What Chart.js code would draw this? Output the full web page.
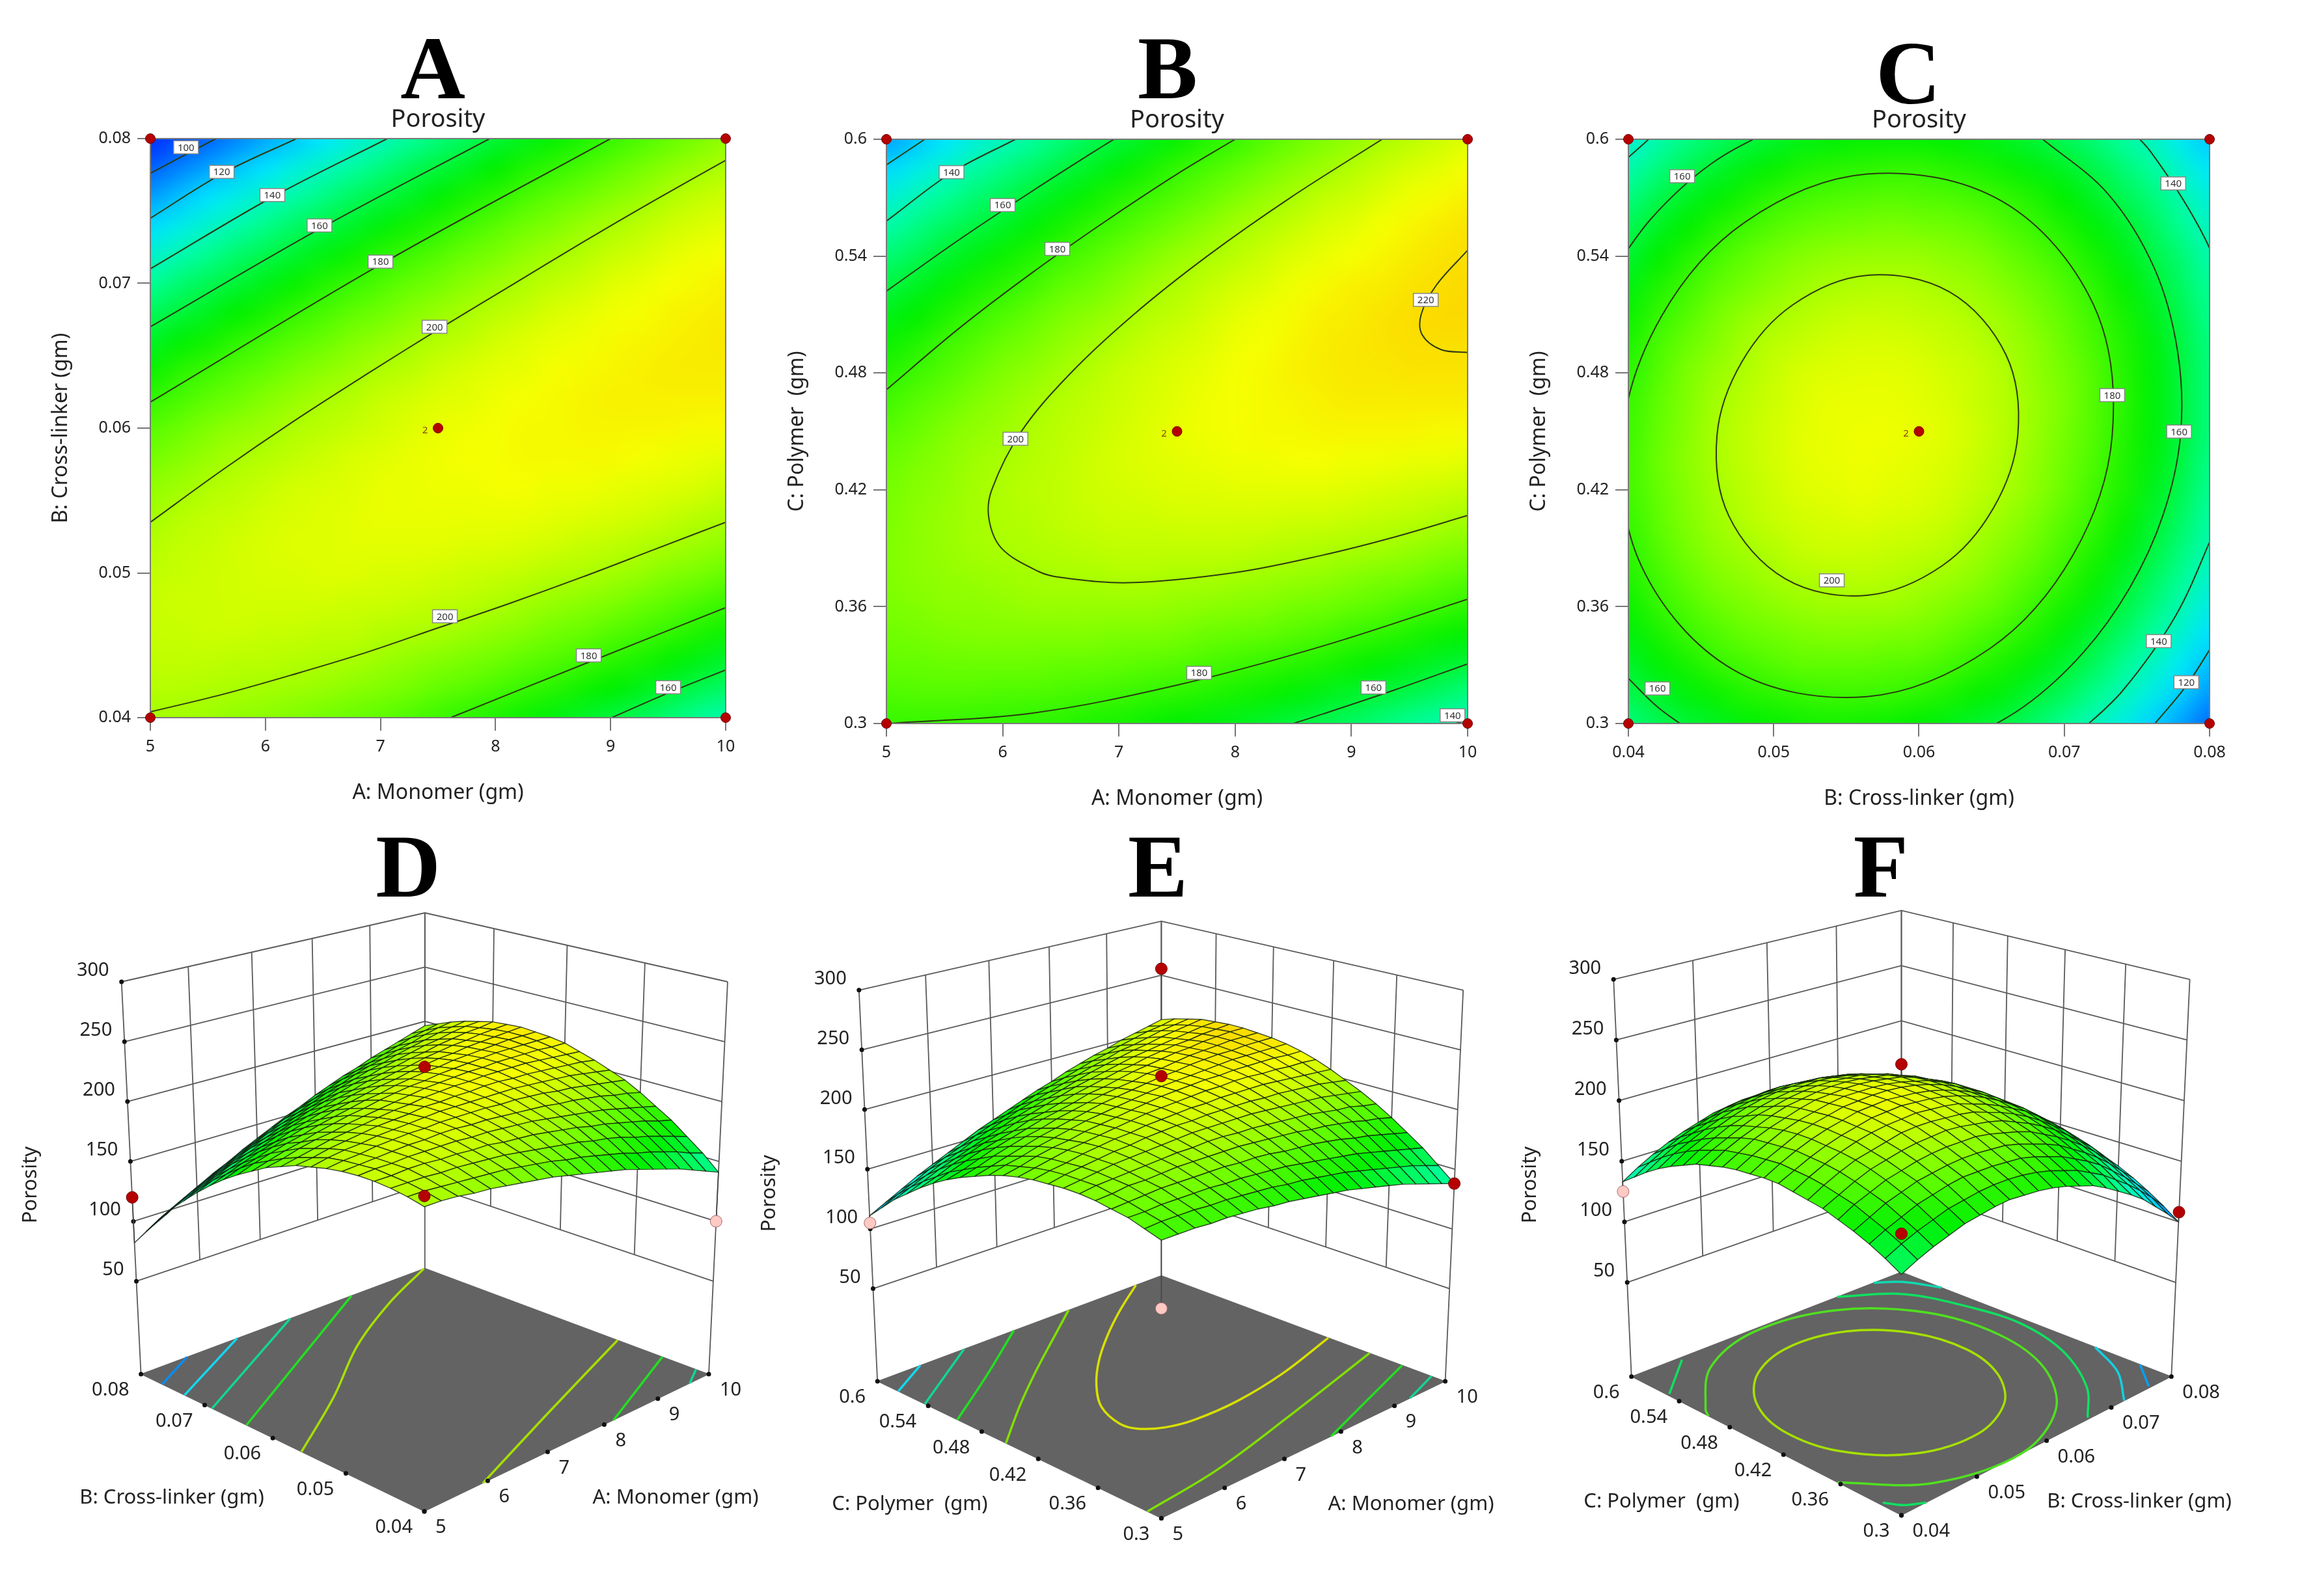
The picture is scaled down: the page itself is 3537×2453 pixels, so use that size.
<!DOCTYPE html>
<html>
<head>
<meta charset="utf-8">
<title>Porosity</title>
<script src="https://cdn.jsdelivr.net/npm/chart.js@4/dist/chart.umd.min.js"></script>
<style>
body { margin: 0; background: #fff; width: 3537px; height: 2453px; position: relative; overflow: hidden; }
canvas { position: absolute; }
.letter { position: absolute; font: bold 138px "Liberation Serif"; line-height: 1; transform: translateX(-50%); color: #000; }
</style>
</head>
<body>
<div class="letter" style="left:665px;top:36px">A</div>
<div class="letter" style="left:1794px;top:36px">B</div>
<div class="letter" style="left:2932px;top:44px">C</div>
<div class="letter" style="left:627px;top:1263px">D</div>
<div class="letter" style="left:1779px;top:1263px">E</div>
<div class="letter" style="left:2890px;top:1263px">F</div>
<canvas id="chartA" width="1240" height="1260" style="left:0;top:0"></canvas>
<canvas id="chartB" width="1240" height="1270" style="left:1150px;top:0"></canvas>
<canvas id="chartC" width="1240" height="1270" style="left:2290px;top:0"></canvas>
<canvas id="chartD" width="1200" height="1173" style="left:0;top:1280px"></canvas>
<canvas id="chartE" width="1200" height="1173" style="left:1140px;top:1280px"></canvas>
<canvas id="chartF" width="1217" height="1173" style="left:2320px;top:1280px"></canvas>
<script>
// tick labels
const monomerTicks = [5, 6, 7, 8, 9, 10];
const crossTicks = [0.04, 0.05, 0.06, 0.07, 0.08];
const polymerTicks = [0.3, 0.36, 0.42, 0.48, 0.54, 0.6];
const porosityTicks = [50, 100, 150, 200, 250, 300];

// porosity, 21 x 21 nodes. Rows go from the low to the high end of the vertical factor
const porosityAB = [
[199,199,198,196,195,193,191,189,187,184,181,178,175,172,168,164,160,156,151,146,141],
[202,202,201,200,199,198,197,195,193,191,188,186,183,180,177,173,170,166,162,157,153],
[204,204,204,203,203,202,201,200,198,196,194,192,190,187,185,182,178,175,171,167,163],
[205,205,206,206,205,205,204,204,202,201,200,198,196,194,191,189,186,183,180,176,173],
[205,206,206,207,207,207,207,206,206,205,204,203,201,199,197,195,193,190,187,184,181],
[204,205,206,207,208,208,209,209,208,208,207,206,205,204,202,201,199,197,194,192,189],
[202,204,205,207,208,209,209,210,210,210,210,209,209,208,207,205,204,202,200,198,196],
[199,202,204,205,207,208,209,210,211,211,211,211,211,211,210,209,208,207,205,203,201],
[196,198,201,203,205,207,208,209,211,211,212,212,213,213,212,212,211,210,209,208,206],
[191,194,197,200,202,204,206,208,209,211,212,213,213,214,214,214,214,213,212,211,210],
[186,189,193,196,198,201,203,205,207,209,211,212,213,214,214,215,215,215,215,214,214],
[179,183,187,190,194,197,200,202,205,207,209,210,212,213,214,215,216,216,216,216,216],
[172,177,181,185,188,192,195,198,201,203,206,208,210,211,213,214,215,216,217,217,217],
[164,169,173,178,182,186,189,193,196,199,202,204,207,209,211,212,214,215,216,217,218],
[155,160,165,170,174,179,183,187,190,194,197,200,203,205,208,210,212,213,215,216,217],
[145,151,156,161,166,171,176,180,184,188,191,195,198,201,204,206,209,211,213,214,216],
[134,140,146,152,157,162,167,172,177,181,185,189,192,196,199,202,205,207,210,212,213],
[123,129,135,141,147,153,158,163,168,173,177,182,186,190,193,197,200,203,206,208,210],
[110,117,124,130,136,142,148,154,159,164,169,174,178,183,187,190,194,197,201,204,206],
[96,104,111,118,124,131,137,143,149,155,160,165,170,175,179,183,187,191,195,198,201],
[82,90,97,105,112,119,125,132,138,144,150,155,161,166,171,175,180,184,188,192,196]
];
const porosityAC = [
[180,180,180,179,179,178,177,175,174,172,170,168,166,163,160,157,154,150,146,142,138],
[184,185,185,185,184,184,183,182,181,179,178,176,174,172,169,166,163,160,157,153,149],
[188,188,189,189,189,189,188,188,187,186,185,183,181,179,177,175,172,169,166,163,160],
[190,191,192,193,193,193,193,193,192,192,191,189,188,187,185,183,180,178,175,172,169],
[192,193,195,195,196,197,197,197,197,197,196,195,194,193,191,190,188,186,183,181,178],
[193,195,196,197,198,199,200,200,201,201,200,200,199,198,197,196,194,192,191,188,186],
[193,195,197,199,200,201,202,203,204,204,204,204,204,203,202,201,200,199,197,195,193],
[192,195,197,199,201,202,204,205,206,206,207,207,207,207,206,206,205,204,203,201,199],
[191,194,196,199,201,203,204,206,207,208,209,209,210,210,210,210,209,208,207,206,205],
[189,192,195,198,200,202,204,206,208,209,210,211,212,212,213,213,212,212,211,211,210],
[186,189,193,196,198,201,203,205,207,209,211,212,213,214,214,215,215,215,215,214,214],
[182,186,189,193,196,199,202,204,206,208,210,212,213,214,215,216,217,217,217,217,217],
[177,181,185,189,193,196,199,202,205,207,209,211,213,214,216,217,218,218,219,219,219],
[172,176,181,185,189,192,196,199,202,205,207,209,212,213,215,217,218,219,220,220,220],
[166,170,175,180,184,188,192,195,198,202,204,207,210,212,214,216,217,219,220,221,221],
[159,164,169,174,178,182,187,190,194,198,201,204,207,209,212,214,216,217,219,220,221],
[151,156,162,167,172,176,181,185,189,193,197,200,203,206,209,211,213,215,217,219,220],
[142,148,154,159,164,169,174,179,183,187,191,195,199,202,205,208,210,213,215,217,219],
[133,139,145,151,156,162,167,172,177,181,185,189,193,197,200,204,206,209,212,214,216],
[122,129,135,142,148,153,159,164,169,174,179,183,187,191,195,198,202,205,208,210,213],
[111,118,125,132,138,144,150,156,161,166,171,176,180,185,189,193,196,200,203,206,209]
];
const porosityBC = [
[150,156,161,165,169,171,173,174,173,172,170,167,163,159,153,146,139,131,121,111,100],
[157,163,168,172,176,178,180,181,181,180,178,175,171,167,161,155,147,139,130,120,109],
[163,169,174,179,182,185,187,187,187,186,185,182,178,174,168,162,155,146,137,127,117],
[168,174,180,184,188,190,192,193,193,192,191,188,184,180,175,168,161,153,144,134,124],
[172,179,184,189,192,195,197,198,198,198,196,193,190,186,180,174,167,159,150,140,130],
[176,182,188,193,196,199,201,202,203,202,200,198,195,190,185,179,172,164,155,146,135],
[178,185,191,196,199,202,205,206,206,205,204,202,198,194,189,183,176,168,160,150,140],
[180,187,193,198,202,205,207,208,209,208,207,205,201,197,192,186,180,172,163,154,143],
[182,188,194,199,203,206,209,210,211,210,209,207,204,200,195,189,182,175,166,157,146],
[182,189,195,200,204,207,210,211,212,211,210,208,205,201,196,190,184,176,168,159,148],
[181,188,194,200,204,207,210,211,212,212,211,209,206,202,197,191,185,177,169,160,150],
[180,187,193,199,203,206,209,211,211,211,210,208,205,202,197,192,185,178,169,160,150],
[178,185,192,197,201,205,208,209,210,210,209,207,205,201,196,191,185,177,169,160,150],
[175,183,189,194,199,203,205,207,208,208,207,205,203,199,195,189,183,176,168,159,149],
[172,179,185,191,196,199,202,204,205,205,204,203,200,197,192,187,181,174,166,157,147],
[167,175,181,187,191,195,198,200,201,202,201,199,197,193,189,184,178,171,163,154,145],
[162,170,176,182,187,191,194,196,197,197,197,195,193,189,185,180,174,167,159,151,141],
[156,164,170,176,181,185,188,190,191,192,191,190,188,184,180,175,169,163,155,146,137],
[149,157,164,169,174,179,182,184,185,186,185,184,182,179,175,170,164,157,150,141,132],
[141,149,156,162,167,171,175,177,178,179,179,177,175,172,168,164,158,151,144,135,126],
[133,141,148,154,159,163,167,169,171,171,171,170,168,165,161,156,151,144,137,128,119]
];

// contour lines of the flat maps: [x, y] in axis units. A line whose ends coincide is a closed ring
const contoursA = [
[[5,0.0776],[5.57,0.08]],
[[5,0.0745],[5.63,0.0776],[6.27,0.08]],
[[5,0.071],[6.07,0.076],[7.06,0.08]],
[[5,0.067],[6.48,0.0738],[7.95,0.08]],
[[5,0.0618],[7,0.0713],[9,0.08]],
[[5,0.0535],[5.625,0.0571],[6.25,0.0605],[6.875,0.0637],[7.5,0.0668],[8.125,0.0698],[8.75,0.0728],[9.375,0.0757],[10,0.0785]],
[[5,0.0404],[5.625,0.0416],[6.25,0.043],[6.875,0.0445],[7.5,0.0462],[8.125,0.0479],[8.75,0.0497],[9.375,0.0516],[10,0.0535]],
[[7.61,0.04],[8.8,0.0438],[10,0.0476]],
[[9.01,0.04],[9.5,0.0417],[10,0.0433]]
];
const labelsA = [[5.31,0.0794,'100'],[5.62,0.0777,'120'],[6.06,0.0761,'140'],[6.47,0.074,'160'],[7,0.0715,'180'],[7.47,0.067,'200'],[7.56,0.047,'200'],[8.81,0.0443,'180'],[9.5,0.0421,'160']];
const contoursB = [
[[5,0.5868],[5.33,0.6]],
[[5,0.558],[5.56,0.5828],[6.11,0.6]],
[[5,0.522],[5.625,0.5484],[6.25,0.5732],[6.875,0.597],[7,0.6015]],
[[5,0.4714],[5.625,0.5029],[6.25,0.5313],[6.875,0.5575],[7.5,0.5821],[8,0.6]],
[[9.265,0.6],[8.475,0.57],[7.76,0.54],[7.127,0.51],[6.586,0.48],[6.161,0.45],[5.906,0.42],[5.882,0.405],[5.99,0.39],[6.31,0.378],[6.5,0.375],[7.09,0.3723],[8,0.3775],[8.75,0.3864],[9.375,0.3958],[10,0.4068]],
[[10,0.543],[9.73,0.525],[9.6,0.51],[9.61,0.4995],[9.77,0.492],[10,0.4905]],
[[5,0.3],[6.25,0.3053],[7.5,0.3197],[8.75,0.3397],[10,0.3638]],
[[8.5,0.3],[8.75,0.3048],[9.375,0.3173],[10,0.3306]],
[[9.9,0.3],[10,0.302]]
];
const labelsB = [[5.56,0.5831,'140'],[6,0.5662,'160'],[6.47,0.5437,'180'],[6.11,0.4462,'200'],[9.64,0.5175,'220'],[7.69,0.326,'180'],[9.19,0.3185,'160'],[9.87,0.3042,'140']];
const contoursC = [
[[0.04,0.5907],[0.0414,0.6]],
[[0.0384,0.5263],[0.0416,0.5595],[0.0457,0.5874],[0.0507,0.6081]],
[[0.0733,0.448],[0.072,0.5152],[0.0657,0.5682],[0.0564,0.5821],[0.048,0.5573],[0.0423,0.5094],[0.0396,0.448],[0.0409,0.3808],[0.0472,0.3277],[0.0564,0.3138],[0.0649,0.3386],[0.0706,0.3865],[0.0733,0.448]],
[[0.0668,0.448],[0.066,0.4891],[0.0621,0.5216],[0.0564,0.5301],[0.0513,0.5149],[0.0478,0.4856],[0.0461,0.448],[0.0469,0.4068],[0.0508,0.3743],[0.0564,0.3658],[0.0616,0.381],[0.0651,0.4103],[0.0668,0.448]],
[[0.0683,0.6013],[0.073,0.572],[0.0762,0.5337],[0.0778,0.491],[0.078,0.448],[0.0768,0.4071],[0.0745,0.3696],[0.0713,0.3364],[0.0672,0.3086],[0.0622,0.2879]],
[[0.0399,0.3239],[0.0421,0.3079],[0.0446,0.2947]],
[[0.0735,0.6117],[0.0759,0.594],[0.0797,0.5488],[0.0812,0.5156]],
[[0.0804,0.4],[0.0777,0.3558],[0.074,0.3167],[0.0708,0.294]],
[[0.0805,0.3438],[0.0784,0.3194],[0.0762,0.2996]]
];
const labelsC = [[0.0437,0.581,'160'],[0.0775,0.5773,'140'],[0.0733,0.4686,'180'],[0.0779,0.4499,'160'],[0.054,0.3735,'200'],[0.0765,0.3423,'140'],[0.0784,0.3212,'120'],[0.042,0.318,'160']];

// contour lines on the floor of the 3D plots: colour, then [x, y] in axis units
const floorD = [
['#0a8cf0',[[5,0.0766],[5.73,0.08]]],
['#14d8f0',[[5,0.0731],[6.56,0.08]]],
['#10d890',[[5,0.0689],[7.48,0.08]]],
['#22e020',[[5,0.0638],[8.59,0.08]]],
['#a6e000',[[5,0.056],[6.25,0.0625],[7.5,0.0698],[8.75,0.0755],[9.98,0.08]]],
['#a6e000',[[5.92,0.04],[7.76,0.0454],[10,0.0518]]],
['#22e020',[[8.17,0.04],[10,0.0459]]],
['#10d890',[[9.62,0.04],[10,0.0416]]]
];
const floorE = [
['#14d8f0',[[5,0.575],[5.68,0.6]]],
['#10d890',[[5,0.544],[6.4,0.6]]],
['#22e020',[[5,0.507],[6.07,0.55],[7.25,0.6]]],
['#80e000',[[5,0.454],[5.8,0.4935],[6.6,0.53],[7.4,0.5645],[8.23,0.6]]],
['#d8e000',[[9.5,0.6],[8.71,0.57],[8,0.54],[7.375,0.51],[6.86,0.48],[6.47,0.45],[6.3,0.42],[6.36,0.405],[6.61,0.393],[7,0.3868],[7.75,0.3864],[8.75,0.3954],[10,0.4148]]],
['#80e000',[[5,0.313],[6.25,0.3215],[7.9,0.343],[10,0.373]]],
['#22e020',[[7.82,0.3],[10,0.341]]],
['#10d890',[[9.3,0.3],[10,0.313]]]
];
const floorF = [
['#a6e000',[[0.0697,0.448],[0.0686,0.5007],[0.0637,0.5422],[0.0564,0.5531],[0.0498,0.5337],[0.0453,0.4962],[0.0432,0.448],[0.0443,0.3953],[0.0492,0.3537],[0.0564,0.3428],[0.0631,0.3623],[0.0676,0.3998],[0.0697,0.448]]],
['#50e020',[[0.04,0.5048],[0.0408,0.5157],[0.0472,0.5685],[0.0564,0.5959],[0.0667,0.5805],[0.0736,0.5221],[0.075,0.448],[0.0721,0.3802],[0.0657,0.3275],[0.0564,0.3001],[0.0462,0.3154],[0.04,0.3633]]],
['#10e060',[[0.0695,0.6],[0.0755,0.5635],[0.0783,0.5],[0.0789,0.448],[0.0767,0.39],[0.0718,0.335],[0.0666,0.302]]],
['#10e060',[[0.0404,0.321],[0.0414,0.3086],[0.0432,0.3]]],
['#10e060',[[0.0403,0.555],[0.0463,0.596]]],
['#10d8b0',[[0.0754,0.6],[0.078,0.583],[0.08,0.55]]],
['#14d0e0',[[0.08,0.377],[0.0769,0.335],[0.0721,0.3]]],
['#0aa0f0',[[0.08,0.331],[0.0765,0.302]]]
];

// design points: [x, y, porosity]; the 2D maps only use x and y
const pointsFlatA = [[5,0.04],[10,0.04],[5,0.08],[10,0.08],[7.5,0.06]];
const pointsFlatB = [[5,0.3],[10,0.3],[5,0.6],[10,0.6],[7.5,0.45]];
const pointsFlatC = [[0.04,0.3],[0.08,0.3],[0.04,0.6],[0.08,0.6],[0.06,0.45]];
const pointsRedD = [[5,0.08,120],[7.5,0.06,229],[5,0.04,207]];
const pointsPaleD = [[10,0.04,100]];
const pointsRedE = [[10,0.3,138],[10,0.6,256],[7.5,0.45,228]];
const pointsPaleE = [[5,0.6,105],[5,0.3,129]];
const pointsRedF = [[0.08,0.3,108],[0.06,0.45,230],[0.04,0.3,180]];
const pointsPaleF = [[0.04,0.6,125]];

const colorStops = [[80,[0,40,255]],[100,[0,110,255]],[125,[0,230,255]],[145,[0,255,150]],[170,[0,240,0]],[190,[110,255,0]],[213,[245,255,0]],[225,[255,200,0]]];
const textFont = '"Noto Sans"';
const lineTension = 0.35;

function colorFor(v) {
    if (v <= colorStops[0][0]) return colorStops[0][1];
    for (let i = 1; i < colorStops.length; i++) {
        if (v <= colorStops[i][0]) {
            const [v0, c0] = colorStops[i - 1], [v1, c1] = colorStops[i];
            const f = (v - v0) / (v1 - v0);
            return c0.map((c, k) => Math.round(c + (c1[k] - c) * f));
        }
    }
    return colorStops[colorStops.length - 1][1];
}

function niceTicks(values) {
    return function (scale) { scale.ticks = values.map(v => ({ value: v })); };
}

// closed rings overlap by one point on each side, hidden, so the spline has no corner where it closes
function isRing(line) {
    const a = line[0], b = line[line.length - 1];
    return line.length > 3 && a[0] === b[0] && a[1] === b[1];
}
function wrapRing(line) {
    return isRing(line) ? [line[line.length - 2]].concat(line, [line[1]]) : line;
}
function ringOptions(line) {
    if (!isRing(line)) return {};
    const last = line.length + 1;
    return { segment: { borderColor: c => (c.p0DataIndex === 0 || c.p1DataIndex === last) ? 'transparent' : undefined } };
}

function drawFlatMap(id, cfg) {
    const xs = cfg.xTicks, ys = cfg.yTicks;
    const dots = cfg.points.map(p => ({ x: p[0], y: p[1] }));

    const mapPlugin = {
        id: 'mapPlugin',
        beforeDatasetsDraw(chart) {
            // colour field from the table
            const grid = cfg.grid, n = grid.length, m = grid[0].length;
            const off = document.createElement('canvas');
            off.width = m; off.height = n;
            const oc = off.getContext('2d'), img = oc.createImageData(m, n);
            for (let r = 0; r < n; r++) {
                for (let c = 0; c < m; c++) {
                    const rgb = colorFor(grid[n - 1 - r][c]), i = (r * m + c) * 4;
                    img.data[i] = rgb[0]; img.data[i + 1] = rgb[1]; img.data[i + 2] = rgb[2]; img.data[i + 3] = 255;
                }
            }
            oc.putImageData(img, 0, 0);
            const ctx = chart.ctx, sx = chart.scales.x, sy = chart.scales.y;
            const left = sx.getPixelForValue(xs[0]), right = sx.getPixelForValue(xs[xs.length - 1]);
            const top = sy.getPixelForValue(ys[ys.length - 1]), bottom = sy.getPixelForValue(ys[0]);
            ctx.save();
            ctx.imageSmoothingEnabled = true;
            ctx.imageSmoothingQuality = 'high';
            ctx.drawImage(off, 0.5, 0.5, m - 1, n - 1, left, top, right - left, bottom - top);
            ctx.restore();
        },
        beforeDatasetDraw(chart, args) {
            if (!chart.data.datasets[args.index].isDots) return;
            const ctx = chart.ctx, a = chart.chartArea, sx = chart.scales.x, sy = chart.scales.y;
            ctx.save();
            ctx.strokeStyle = '#7a7a7a';
            ctx.lineWidth = 2;
            ctx.strokeRect(a.left, a.top, a.width, a.height);
            // little white contour labels
            ctx.font = '15px ' + textFont;
            ctx.textAlign = 'center';
            ctx.textBaseline = 'middle';
            cfg.labels.forEach(l => {
                const px = sx.getPixelForValue(l[0]), py = sy.getPixelForValue(l[1]);
                ctx.fillStyle = '#fff';
                ctx.fillRect(px - 19, py - 10, 38, 20);
                ctx.strokeStyle = '#888';
                ctx.lineWidth = 1.5;
                ctx.strokeRect(px - 19, py - 10, 38, 20);
                ctx.fillStyle = '#333';
                ctx.fillText(l[2], px, py + 1);
            });
            // replicate count next to the centre point
            const last = cfg.points[cfg.points.length - 1];
            ctx.fillStyle = '#7a4a10';
            ctx.fillText('2', sx.getPixelForValue(last[0]) - 20, sy.getPixelForValue(last[1]) + 4);
            ctx.restore();
        },
        afterDraw(chart) {
            const ctx = chart.ctx, a = chart.chartArea;
            ctx.save();
            ctx.font = '38px ' + textFont;
            ctx.fillStyle = '#222';
            ctx.textAlign = 'center';
            ctx.textBaseline = 'alphabetic';
            ctx.fillText('Porosity', (a.left + a.right) / 2, a.top - 18);
            ctx.restore();
        }
    };

    const datasets = cfg.contours.map(line => Object.assign({
        data: wrapRing(line).map(p => ({ x: p[0], y: p[1] })),
        showLine: true,
        tension: lineTension,
        borderColor: '#2c3a12',
        borderWidth: 2,
        pointRadius: 0,
        order: 2
    }, ringOptions(line)));
    datasets.push({
        isDots: true,
        data: dots,
        pointRadius: 7.5,
        pointBackgroundColor: '#b50000',
        pointBorderColor: '#700000',
        pointBorderWidth: 1,
        clip: false,
        order: 1
    });

    const tickFont = { family: textFont, size: 25 };
    const titleFont = { family: textFont, size: 32 };
    return new Chart(document.getElementById(id), {
        type: 'scatter',
        data: { datasets },
        plugins: [mapPlugin],
        options: {
            responsive: false,
            animation: false,
            events: [],
            layout: { autoPadding: false, padding: cfg.padding },
            plugins: { legend: { display: false }, tooltip: { enabled: false } },
            scales: {
                x: {
                    type: 'linear', min: xs[0], max: xs[xs.length - 1],
                    afterBuildTicks: niceTicks(xs),
                    afterFit: s => { s.height = 140; },
                    grid: { drawOnChartArea: false, tickLength: 20, color: '#777', lineWidth: 2 },
                    border: { color: '#777', width: 2 },
                    ticks: { font: tickFont, color: '#222', padding: 10, autoSkip: false, maxRotation: 0, callback: v => String(v) },
                    title: { display: true, text: cfg.xTitle, font: titleFont, color: '#222', padding: { top: 0, bottom: 5 } }
                },
                y: {
                    type: 'linear', min: ys[0], max: ys[ys.length - 1],
                    afterBuildTicks: niceTicks(ys),
                    afterFit: s => { s.width = 166; },
                    grid: { drawOnChartArea: false, tickLength: 20, color: '#777', lineWidth: 2 },
                    border: { color: '#777', width: 2 },
                    ticks: { font: tickFont, color: '#222', padding: 10, autoSkip: false, callback: v => String(v) },
                    title: { display: true, text: cfg.yTitle, font: titleFont, color: '#222', padding: { top: 10, bottom: 0 } }
                }
            }
        }
    });
}

function quadMapper(q) {
    const [p0, p1, p2, p3] = q;
    const dx1 = p1[0] - p2[0], dx2 = p3[0] - p2[0], sx = p0[0] - p1[0] + p2[0] - p3[0];
    const dy1 = p1[1] - p2[1], dy2 = p3[1] - p2[1], sy = p0[1] - p1[1] + p2[1] - p3[1];
    const det = dx1 * dy2 - dx2 * dy1;
    const g = (sx * dy2 - dx2 * sy) / det, h = (dx1 * sy - sx * dy1) / det;
    const a = p1[0] - p0[0] + g * p1[0], b = p3[0] - p0[0] + h * p3[0], c = p0[0];
    const d = p1[1] - p0[1] + g * p1[1], e = p3[1] - p0[1] + h * p3[1], f = p0[1];
    return function (s, t) {
        const w = g * s + h * t + 1;
        return [(a * s + b * t + c) / w, (d * s + e * t + f) / w];
    };
}

function drawSurface(id, cfg) {
    const xs = cfg.xTicks, ys = cfg.yTicks, zs = porosityTicks;
    const zFloor = -27.6, zTop = 300;
    const floorAt = quadMapper(cfg.floor), topAt = quadMapper(cfg.top);
    const sOf = v => (v - xs[0]) / (xs[xs.length - 1] - xs[0]);
    const tOf = v => (v - ys[0]) / (ys[ys.length - 1] - ys[0]);
    function project(s, t, z) {
        const a = floorAt(s, t), b = topAt(s, t), f = (z - zFloor) / (zTop - zFloor);
        return { x: a[0] + (b[0] - a[0]) * f, y: a[1] + (b[1] - a[1]) * f };
    }
    function lineSet(points, color, width, order, extra) {
        return Object.assign({ data: points, showLine: true, borderColor: color, borderWidth: width, pointRadius: 0, order: order }, extra || {});
    }

    const datasets = [];
    const wall = '#5a5a5a';
    // back walls
    zs.forEach(z => {
        datasets.push(lineSet([project(0, 1, z), project(1, 1, z), project(1, 0, z)], wall, 1.8, 6));
    });
    xs.forEach(v => {
        const low = (v === xs[0] || v === xs[xs.length - 1]) ? zFloor : zs[0];
        datasets.push(lineSet([project(sOf(v), 1, low), project(sOf(v), 1, zTop)], wall, 1.8, 6));
    });
    ys.forEach(v => {
        const low = v === ys[0] ? zFloor : zs[0];
        datasets.push(lineSet([project(1, tOf(v), low), project(1, tOf(v), zTop)], wall, 1.8, 6));
    });
    // floor and its contours
    datasets.push(lineSet([project(0, 0, zFloor), project(1, 0, zFloor), project(1, 1, zFloor), project(0, 1, zFloor), project(0, 0, zFloor)], '#636363', 1, 5, { fill: 'shape', backgroundColor: '#636363' }));
    cfg.floorLines.forEach(l => {
        datasets.push(lineSet(wrapRing(l[1]).map(p => project(sOf(p[0]), tOf(p[1]), zFloor)), l[0], 3.5, 4, Object.assign({ tension: lineTension }, ringOptions(l[1]))));
    });

    // axis dots on the edges
    const tickDots = [];
    zs.forEach(z => tickDots.push(project(0, 1, z)));
    ys.forEach(v => tickDots.push(project(0, tOf(v), zFloor)));
    xs.forEach(v => tickDots.push(project(sOf(v), 0, zFloor)));
    datasets.push({ data: tickDots, pointRadius: 3.5, pointBackgroundColor: '#111', pointBorderWidth: 0, order: 3 });

    // stems from the design points to the surface
    const gridAt = p => {
        const row = Math.round(tOf(p[1]) * (cfg.grid.length - 1)), col = Math.round(sOf(p[0]) * (cfg.grid[0].length - 1));
        return cfg.grid[row][col];
    };
    cfg.red.concat(cfg.pale).forEach((p, i) => {
        datasets.push(lineSet([project(sOf(p[0]), tOf(p[1]), p[2]), project(sOf(p[0]), tOf(p[1]), gridAt(p))], '#444', 1.5, 2, i === 0 ? { surfaceBelow: true } : {}));
    });
    datasets.push({ data: cfg.red.map(p => project(sOf(p[0]), tOf(p[1]), p[2])), pointRadius: 9, pointBackgroundColor: '#b50000', pointBorderColor: '#700000', pointBorderWidth: 1, clip: false, order: 0 });
    datasets.push({ data: cfg.pale.map(p => project(sOf(p[0]), tOf(p[1]), p[2])), pointRadius: 9, pointBackgroundColor: '#ffc9c4', pointBorderColor: '#a06a6a', pointBorderWidth: 1, clip: false, order: 0 });

    const surfacePlugin = {
        id: 'surfacePlugin',
        beforeDatasetDraw(chart, args) {
            if (!chart.data.datasets[args.index].surfaceBelow) return;
            const ctx = chart.ctx, sx = chart.scales.x, sy = chart.scales.y, grid = cfg.grid;
            const n = grid.length, m = grid[0].length, node = (r, c) => {
                const p = project(c / (m - 1), r / (n - 1), grid[r][c]);
                return [sx.getPixelForValue(p.x), sy.getPixelForValue(p.y)];
            };
            const quads = [];
            for (let r = 0; r < n - 1; r++) {
                for (let c = 0; c < m - 1; c++) quads.push([r, c]);
            }
            // far corner first
            quads.sort((a, b) => (b[0] + b[1]) - (a[0] + a[1]));
            ctx.save();
            ctx.lineWidth = 1.4;
            ctx.lineJoin = 'round';
            ctx.strokeStyle = 'rgba(15,30,10,0.8)';
            quads.forEach(q => {
                const r = q[0], c = q[1];
                const v = (grid[r][c] + grid[r + 1][c] + grid[r][c + 1] + grid[r + 1][c + 1]) / 4;
                const a = node(r, c), b = node(r, c + 1), d = node(r + 1, c + 1), e = node(r + 1, c);
                ctx.beginPath();
                ctx.moveTo(a[0], a[1]); ctx.lineTo(b[0], b[1]); ctx.lineTo(d[0], d[1]); ctx.lineTo(e[0], e[1]);
                ctx.closePath();
                ctx.fillStyle = 'rgb(' + colorFor(v).join(',') + ')';
                ctx.fill();
                ctx.stroke();
            });
            ctx.restore();
        },
        afterDraw(chart) {
            const ctx = chart.ctx, sx = chart.scales.x, sy = chart.scales.y;
            const put = (text, p, dx, dy, align) => {
                ctx.textAlign = align;
                ctx.fillText(text, sx.getPixelForValue(p.x) + dx, sy.getPixelForValue(p.y) + dy);
            };
            ctx.save();
            ctx.fillStyle = '#222';
            ctx.textBaseline = 'middle';
            ctx.font = '29px ' + textFont;
            zs.forEach(z => put(String(z), project(0, 1, z), -19, -17, 'right'));
            ys.forEach(v => put(String(v), project(0, tOf(v), zFloor), -18, 25, 'right'));
            xs.forEach(v => put(String(v), project(sOf(v), 0, zFloor), 17, 25, 'left'));
            ctx.font = '31px ' + textFont;
            ctx.textAlign = 'center';
            ctx.fillText(cfg.xTitle, sx.getPixelForValue(cfg.xTitleAt[0]), sy.getPixelForValue(cfg.xTitleAt[1]));
            ctx.fillText(cfg.yTitle, sx.getPixelForValue(cfg.yTitleAt[0]), sy.getPixelForValue(cfg.yTitleAt[1]));
            ctx.translate(sx.getPixelForValue(cfg.zTitleAt[0]), sy.getPixelForValue(cfg.zTitleAt[1]));
            ctx.rotate(-Math.PI / 2);
            ctx.fillText('Porosity', 0, 0);
            ctx.restore();
        }
    };

    return new Chart(document.getElementById(id), {
        type: 'scatter',
        data: { datasets },
        plugins: [surfacePlugin],
        options: {
            responsive: false,
            animation: false,
            events: [],
            layout: { autoPadding: false, padding: 0 },
            plugins: { legend: { display: false }, tooltip: { enabled: false } },
            scales: {
                x: { type: 'linear', display: false, min: cfg.view[0], max: cfg.view[1] },
                y: { type: 'linear', display: false, reverse: true, min: cfg.view[2], max: cfg.view[3] }
            }
        }
    });
}

drawFlatMap('chartA', { grid: porosityAB, xTicks: monomerTicks, yTicks: crossTicks, contours: contoursA, labels: labelsA, points: pointsFlatA,
    xTitle: 'A: Monomer (gm)', yTitle: 'B: Cross-linker (gm)', padding: { left: 65, right: 125, top: 213, bottom: 17 } });
drawFlatMap('chartB', { grid: porosityAC, xTicks: monomerTicks, yTicks: polymerTicks, contours: contoursB, labels: labelsB, points: pointsFlatB,
    xTitle: 'A: Monomer (gm)', yTitle: 'C: Polymer  (gm)', padding: { left: 46, right: 135, top: 214, bottom: 18 } });
drawFlatMap('chartC', { grid: porosityBC, xTicks: crossTicks, yTicks: polymerTicks, contours: contoursC, labels: labelsC, points: pointsFlatC,
    xTitle: 'B: Cross-linker (gm)', yTitle: 'C: Polymer  (gm)', padding: { left: 46, right: 135, top: 214, bottom: 18 } });

// box corners in page pixels, order: low/low, high/low, high/high, low/high
drawSurface('chartD', { grid: porosityAB, xTicks: monomerTicks, yTicks: crossTicks, floorLines: floorD, red: pointsRedD, pale: pointsPaleD, view: [0, 1200, 1280, 2453],
    floor: [[652, 2323], [1089, 2112], [652.8, 1949.3], [216.6, 2112]], top: [[652, 1646], [1118, 1509], [652.8, 1403], [186.7, 1509]],
    xTitle: 'A: Monomer (gm)', xTitleAt: [1038, 2302], yTitle: 'B: Cross-linker (gm)', yTitleAt: [264, 2302], zTitleAt: [47, 1821] });
drawSurface('chartE', { grid: porosityAC, xTicks: monomerTicks, yTicks: polymerTicks, floorLines: floorE, red: pointsRedE, pale: pointsPaleE, view: [1140, 2340, 1280, 2453],
    floor: [[1784.4, 2333.6], [2220.6, 2123], [1784.4, 1960.5], [1348.2, 2123]], top: [[1784.4, 1659], [2248.2, 1521.8], [1784.4, 1415.8], [1319.8, 1521.8]],
    xTitle: 'A: Monomer (gm)', xTitleAt: [2168, 2312], yTitle: 'C: Polymer  (gm)', yTitleAt: [1398, 2312], zTitleAt: [1182, 1834] });
drawSurface('chartF', { grid: porosityBC, xTicks: crossTicks, yTicks: polymerTicks, floorLines: floorF, red: pointsRedF, pale: pointsPaleF, view: [2320, 3537, 1280, 2453],
    floor: [[2921.5, 2329], [3336.3, 2115.7], [2921.5, 1955], [2506.7, 2115.7]], top: [[2921.5, 1646], [3364.6, 1505.3], [2921.5, 1399.4], [2479.2, 1505.3]],
    xTitle: 'B: Cross-linker (gm)', xTitleAt: [3287, 2308], yTitle: 'C: Polymer  (gm)', yTitleAt: [2553, 2308], zTitleAt: [2351, 1821] });
</script>
</body>
</html>
